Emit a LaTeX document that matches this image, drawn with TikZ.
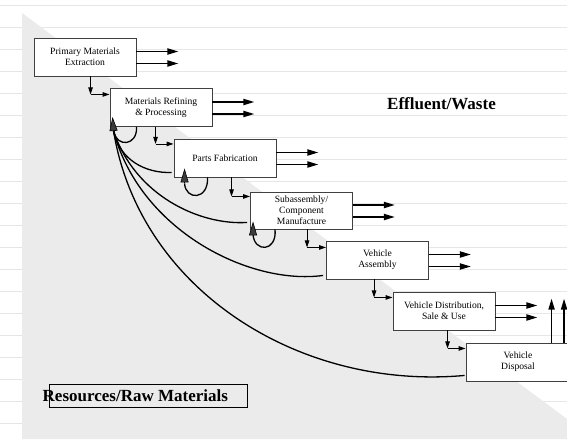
\documentclass[tikz,border=0pt]{standalone}
\usepackage{fontspec}
\setmainfont{Liberation Serif}
\usetikzlibrary{arrows.meta,calc}

\definecolor{wedgegray}{HTML}{EBEBEB}
\definecolor{ruling}{HTML}{E6E6E6}
\definecolor{boxline}{HTML}{404040}
\definecolor{headfill}{HTML}{3C3C3C}

\tikzset{
  stage/.style={draw=boxline, line width=0.9pt, fill=white, align=center,
    minimum width=102pt, minimum height=38pt, inner sep=0pt,
    font=\fontsize{9.6}{10.8}\selectfont},
  waste/.style={line width=1.8pt, -{Triangle[length=11pt,width=6pt]}},
  flow/.style={line width=0.9pt, -{Triangle[length=7pt,width=4.5pt]}},
  back/.style={line width=1.3pt},
  bighead/.style={line width=0.6pt, -{Triangle[length=14pt,width=8pt,fill=headfill]}},
  biglabel/.style={font=\fontsize{17}{20}\selectfont\bfseries, inner sep=0pt}
}

\begin{document}
\begin{tikzpicture}[x=1pt,y=-1pt]
  \useasboundingbox (0,0) rectangle (567,439);
  \clip (0,0) rectangle (567,439);
  \fill[white] (0,0) rectangle (567,439);

  % ruled paper lines
  \foreach \k in {0,...,19}
    \draw[ruling, line width=0.8pt] (0,5+22*\k) -- (567,5+22*\k);

  % shaded resource wedge
  \fill[wedgegray] (22,13) -- (567,419) -- (567,439) -- (22,439) -- cycle;

  % process stages
  \node[stage] (b1) at (85,57)    {Primary Materials\\Extraction};
  \node[stage] (b2) at (161,107.5){Materials Refining\\\& Processing};
  \node[stage] (b3) at (225,158)  {Parts Fabrication};
  \node[stage, minimum height=37pt] (b4) at (301.5,210.5) {Subassembly/\\Component\\Manufacture};
  \node[stage] (b5) at (377.5,260){Vehicle\\Assembly};
  \node[stage] (b6) at (444,311)  {Vehicle Distribution,\\Sale \& Use};
  \node[stage, minimum width=104pt] (b7) at (518,362) {Vehicle\\Disposal};

  % effluent / waste outputs
  \foreach \b in {b1,b2,b3,b4,b5,b6} {
    \draw[waste] ($(\b.east)+(0,-5.5)$) -- ++(42,0);
    \draw[waste] ($(\b.east)+(0,6.5)$) -- ++(42,0);
  }
  \draw[waste] ($(b7.north west)+(86,0)$) -- ++(0,-44);
  \draw[waste] ($(b7.north west)+(98.5,0)$) -- ++(0,-44);

  % forward material flow between stages
  \draw[flow] (b1.south west) ++(57,0) -- ++(0,18) coordinate (k1);
  \draw[flow] (k1) -- (k1 -| b2.west);
  \draw[flow] (b2.south west) ++(46,0) -- ++(0,17) coordinate (k2);
  \draw[flow] (k2) -- (k2 -| b3.west);
  \draw[flow] (b3.south west) ++(58,0) -- ++(0,19) coordinate (k3);
  \draw[flow] (k3) -- (k3 -| b4.west);
  \draw[flow] (b4.south west) ++(57,0) -- ++(0,18) coordinate (k4);
  \draw[flow] (k4) -- (k4 -| b5.west);
  \draw[flow] (b5.south west) ++(48,0) -- ++(0,18) coordinate (k5);
  \draw[flow] (k5) -- (k5 -| b6.west);
  \draw[flow] (b6.south west) ++(55,0) -- ++(0,18) coordinate (k6);
  \draw[flow] (k6) -- (k6 -| b7.west);

  % recycling back to refining
  \coordinate (apex) at ($(b2.south west)+(4,4)$);
  \draw[back] (apex) .. controls +(6,29) and +(-26,1) .. ($(b3.south west)+(-2,-5)$);
  \draw[back] (apex) .. controls +(21,64) and +(-48,3) .. ($(b4.south west)+(-3,-7)$);
  \draw[back] (apex) .. controls +(26,99) and +(-74,10) .. ($(b5.south west)+(-3,-4)$);
  \draw[back] (apex) .. controls +(26,159) and +(-165,15) .. ($(b7.south west)+(-1,-6)$);

  % in-plant scrap loops
  \draw[back] (apex) .. controls +(3,17) and +(1,19) .. ($(b2.south west)+(27,0)$);
  \coordinate (l3) at ($(b3.south west)+(11,6)$);
  \draw[back] (l3) .. controls +(1,17) and +(1,23) .. ($(b3.south west)+(34,0)$);
  \coordinate (l4) at ($(b4.south west)+(3,5)$);
  \draw[back] (l4) .. controls +(1,18) and +(2,23) .. ($(b4.south west)+(25,0)$);

  \draw[bighead] (apex) -- ++(-1,-14);
  \draw[bighead] (l3) -- ++(0,-15);
  \draw[bighead] (l4) -- ++(0,-13);

  % region labels
  \node[biglabel, anchor=west] (eff) at (387,103.5) {Effluent/Waste};
  \node[draw=black, line width=0.9pt, minimum width=198pt, minimum height=23pt, inner sep=0pt]
    (resframe) at (148,395.5) {};
  \node[biglabel, anchor=west] (res) at (42.5,396) {Resources/Raw Materials};
\end{tikzpicture}
\end{document}
